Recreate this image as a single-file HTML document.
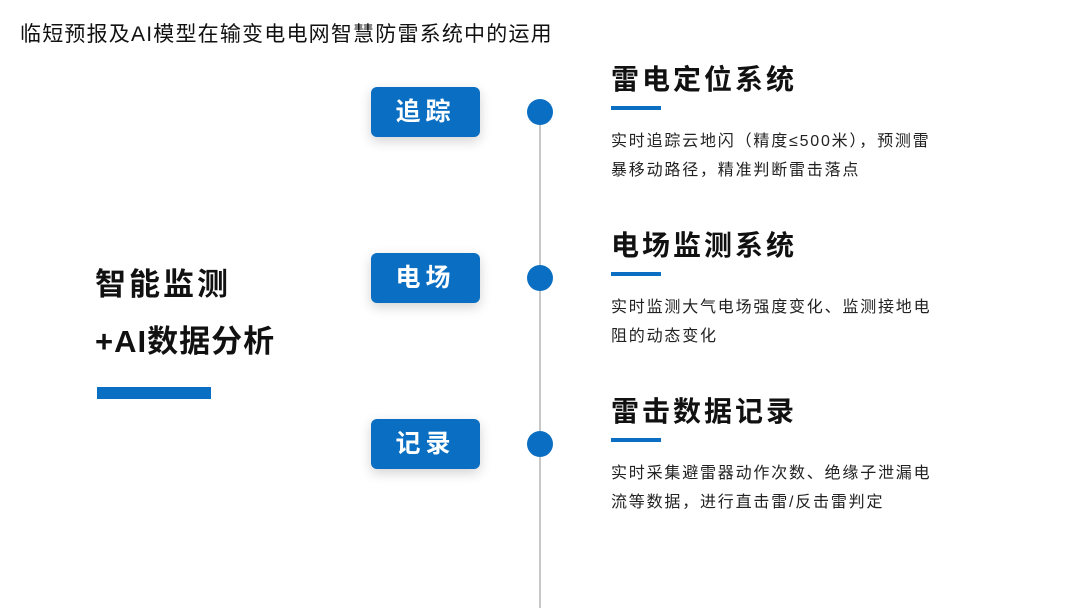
<!DOCTYPE html>
<html><head><meta charset="utf-8"><style>
body{margin:0;width:1080px;height:608px;background:#fff;position:relative;overflow:hidden;font-family:"Liberation Sans","Noto Sans CJK SC",sans-serif;color:#111}
.a{position:absolute;white-space:nowrap}
.box{position:absolute;left:371px;width:109px;height:50px;background:#0a6fc2;border-radius:6px;color:#fff;font-size:25px;font-weight:bold;line-height:50px;text-align:center;letter-spacing:5px;box-shadow:0 4px 12px rgba(0,0,0,.18)}
.dot{position:absolute;left:527px;width:26px;height:26px;border-radius:50%;background:#0a6fc2}
.t{position:absolute;left:611px;font-size:28px;font-weight:bold;letter-spacing:3px;line-height:34px}
.u{position:absolute;left:611px;width:50px;height:4px;background:#0a6fc2}
.d{position:absolute;left:611px;font-size:16px;line-height:29px;letter-spacing:1.8px;color:#222}
</style></head><body>
<div class="a" style="left:20px;top:22px;font-size:21px;line-height:26px;letter-spacing:1.2px">临短预报及AI模型在输变电电网智慧防雷系统中的运用</div>
<div class="a" style="left:95px;top:265px;font-size:31px;font-weight:bold;letter-spacing:3px;line-height:40px">智能监测</div>
<div class="a" style="left:95px;top:322px;font-size:31px;font-weight:bold;letter-spacing:1px;line-height:40px">+AI数据分析</div>
<div class="a" style="left:97px;top:387px;width:114px;height:12px;background:#0a6fc2"></div>
<div class="a" style="left:539px;top:112px;width:2px;height:496px;background:#c8c8c8"></div>
<div class="box" style="top:87px">追踪</div>
<div class="box" style="top:253px">电场</div>
<div class="box" style="top:419px">记录</div>
<div class="dot" style="top:99px"></div>
<div class="dot" style="top:265px"></div>
<div class="dot" style="top:431px"></div>
<div class="t" style="top:63px">雷电定位系统</div>
<div class="u" style="top:106px"></div>
<div class="d" style="top:127px">实时追踪云地闪（精度≤500米），预测雷<br>暴移动路径，精准判断雷击落点</div>
<div class="t" style="top:229px">电场监测系统</div>
<div class="u" style="top:272px"></div>
<div class="d" style="top:293px">实时监测大气电场强度变化、监测接地电<br>阻的动态变化</div>
<div class="t" style="top:395px">雷击数据记录</div>
<div class="u" style="top:438px"></div>
<div class="d" style="top:459px">实时采集避雷器动作次数、绝缘子泄漏电<br>流等数据，进行直击雷/反击雷判定</div>
</body></html>
